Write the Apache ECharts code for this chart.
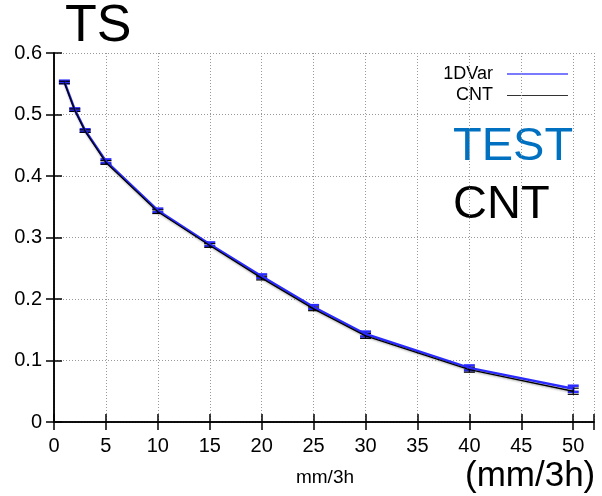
<!DOCTYPE html>
<html>
<head>
<meta charset="utf-8">
<script src="https://cdn.jsdelivr.net/npm/echarts@6/dist/echarts.min.js"></script>
<style>
  html, body { margin: 0; padding: 0; background: #fff; }
  #main { width: 602px; height: 496px; }
</style>
</head>
<body>
<div id="main"></div>
<script>
// threshold (mm/3h) and TS scores
const thresholds = [1, 2, 3, 5, 10, 15, 20, 25, 30, 40, 50]
const var1dTS = [0.553, 0.508, 0.474, 0.424, 0.344, 0.289, 0.237, 0.187, 0.143, 0.088, 0.054]
const var1dErr = [0.002, 0.002, 0.002, 0.003, 0.003, 0.003, 0.003, 0.003, 0.004, 0.004, 0.005]
const cntTS = [0.552, 0.507, 0.473, 0.422, 0.342, 0.287, 0.234, 0.184, 0.140, 0.085, 0.050]
const cntErr = [0.002, 0.002, 0.002, 0.003, 0.003, 0.003, 0.003, 0.003, 0.004, 0.004, 0.005]
const xTicks = [0, 5, 10, 15, 20, 25, 30, 35, 40, 45, 50]

const FONT = 'Liberation Sans, Arial, sans-serif'
const BLUE = '#2b2bff'

const chart = echarts.init(document.getElementById('main'), null, { renderer: 'canvas' })

function errorBars(vals, errs, color, width) {
  return {
    type: 'custom',
    xAxisIndex: 0,
    yAxisIndex: 0,
    z: 3,
    silent: true,
    data: thresholds.map((x, i) => [x, vals[i] - errs[i], vals[i] + errs[i]]),
    encode: { x: 0, y: [1, 2] },
    renderItem(params, api) {
      const lo = api.coord([api.value(0), api.value(1)])
      const hi = api.coord([api.value(0), api.value(2)])
      const w = 5.5
      const style = { stroke: color, lineWidth: width }
      return {
        type: 'group',
        children: [
          { type: 'line', shape: { x1: lo[0], y1: lo[1], x2: hi[0], y2: hi[1] }, style },
          { type: 'line', shape: { x1: lo[0] - w, y1: lo[1], x2: lo[0] + w, y2: lo[1] }, style },
          { type: 'line', shape: { x1: hi[0] - w, y1: hi[1], x2: hi[0] + w, y2: hi[1] }, style }
        ]
      }
    }
  }
}

const axisCommon = {
  min: 0,
  axisLine: { show: true, lineStyle: { color: '#000', width: 1.5 } },
  axisTick: { show: true, inside: true, length: 8, lineStyle: { color: '#000', width: 1.5 } }
}

chart.setOption({
  animation: false,
  backgroundColor: '#fff',
  title: {
    text: 'TS',
    left: 60,
    top: -4,
    textStyle: { fontSize: 52, fontWeight: 'normal', color: '#000', fontFamily: FONT }
  },
  grid: { left: 54, top: 53, right: 8, bottom: 74 },
  xAxis: [
    {
      ...axisCommon,
      type: 'value',
      max: 52,
      interval: 5,
      axisLabel: {
        margin: 14,
        fontSize: 20,
        color: '#000',
        fontFamily: FONT,
        formatter: v => (xTicks.includes(v) ? String(v) : '')
      },
      splitLine: { show: true, lineStyle: { color: '#999', width: 1, type: [1, 2] } }
    },
    {
      ...axisCommon,
      type: 'value',
      position: 'top',
      max: 52,
      interval: 5,
      axisLabel: { show: false },
      splitLine: { show: false }
    }
  ],
  yAxis: [
    {
      ...axisCommon,
      type: 'value',
      max: 0.6,
      interval: 0.1,
      axisLabel: {
        margin: 12,
        fontSize: 20,
        color: '#000',
        fontFamily: FONT,
        formatter: v => (v === 0 ? '0' : v.toFixed(1))
      },
      splitLine: { show: true, lineStyle: { color: '#999', width: 1, type: [1, 2] } }
    },
    {
      ...axisCommon,
      type: 'value',
      position: 'right',
      max: 0.6,
      interval: 0.1,
      axisLabel: { show: false },
      splitLine: { show: false }
    }
  ],
  series: [
    {
      name: '1DVar',
      type: 'line',
      data: thresholds.map((x, i) => [x, var1dTS[i]]),
      showSymbol: false,
      lineStyle: { color: BLUE, width: 2.5 },
      z: 4
    },
    errorBars(var1dTS, var1dErr, BLUE, 2.5),
    {
      name: 'CNT',
      type: 'line',
      data: thresholds.map((x, i) => [x, cntTS[i]]),
      showSymbol: false,
      lineStyle: { color: '#000', width: 1.3, shadowColor: 'rgba(0,0,0,0.35)', shadowBlur: 2, shadowOffsetY: 1 },
      z: 5
    },
    errorBars(cntTS, cntErr, '#000', 1.2)
  ],
  graphic: [
    // legend
    { type: 'text', x: 493, y: 74, style: { text: '1DVar', fill: '#000', font: '18px ' + FONT, textAlign: 'right', textVerticalAlign: 'middle' } },
    { type: 'line', shape: { x1: 507, y1: 74, x2: 568, y2: 74 }, style: { stroke: '#7a7aff', lineWidth: 2 } },
    { type: 'text', x: 493, y: 95, style: { text: 'CNT', fill: '#000', font: '18px ' + FONT, textAlign: 'right', textVerticalAlign: 'middle' } },
    { type: 'line', shape: { x1: 507, y1: 95.5, x2: 568, y2: 95.5 }, style: { stroke: '#333', lineWidth: 1 } },
    // annotations
    { type: 'text', x: 453, y: 147, style: { text: 'TEST', fill: '#0070c0', font: '47px ' + FONT, textVerticalAlign: 'middle' } },
    { type: 'text', x: 453, y: 205, style: { text: 'CNT', fill: '#000', font: '47px ' + FONT, textVerticalAlign: 'middle' } },
    { type: 'text', x: 325, y: 478, style: { text: 'mm/3h', fill: '#000', font: '19px ' + FONT, textAlign: 'center', textVerticalAlign: 'middle' } },
    { type: 'text', x: 465, y: 476, style: { text: '(mm/3h)', fill: '#000', font: '35px ' + FONT, textVerticalAlign: 'middle' } }
  ]
})
</script>
</body>
</html>
